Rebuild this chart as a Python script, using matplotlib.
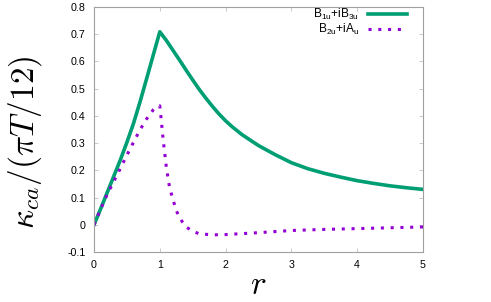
import numpy as np
import matplotlib
matplotlib.use("Agg")
import matplotlib.pyplot as plt

# B1u+iB3u (green, solid)
r_b1u = [0.0, 0.1, 0.2, 0.3, 0.4, 0.5, 0.6, 0.7, 0.8, 0.9, 1.0, 1.05, 1.1, 1.2, 1.3, 1.4, 1.5, 1.6, 1.7,
         1.8, 1.9, 2.0, 2.1, 2.25, 2.5, 2.75, 3.0, 3.25, 3.5, 3.75, 4.0, 4.25, 4.5, 4.75, 5.0]
k_b1u = [0.0, 0.058, 0.118, 0.178, 0.238, 0.303, 0.372, 0.452, 0.537, 0.623, 0.709, 0.693, 0.677, 0.641, 0.605,
         0.568, 0.532, 0.497, 0.465, 0.435, 0.407, 0.382, 0.36, 0.331, 0.291, 0.258, 0.228, 0.206, 0.189, 0.175,
         0.162, 0.152, 0.143, 0.136, 0.130]

# B2u+iAu (purple, dotted)
r_b2u = [0.0, 0.1, 0.2, 0.3, 0.4, 0.5, 0.6, 0.7, 0.8, 0.9, 0.95, 1.0, 1.02, 1.05, 1.1, 1.15,
         1.2, 1.25, 1.3, 1.4, 1.5, 1.6, 1.8, 2.0, 2.5, 3.0, 3.5, 4.0, 4.5, 5.0]
k_b2u = [0.0, 0.057, 0.111, 0.159, 0.207, 0.256, 0.303, 0.349, 0.389, 0.422, 0.432, 0.437, 0.39, 0.315, 0.21, 0.135,
         0.093, 0.053, 0.025, -0.008, -0.024, -0.033, -0.037, -0.036, -0.029, -0.021, -0.017, -0.014, -0.011, -0.008]

labels = [r"B$_{\mathrm{1u}}$+iB$_{\mathrm{3u}}$", r"B$_{\mathrm{2u}}$+iA$_{\mathrm{u}}$"]

plt.rcParams["font.family"] = ["Liberation Sans", "DejaVu Sans"]
plt.rcParams["mathtext.fontset"] = "custom"
plt.rcParams["mathtext.rm"] = "Liberation Sans"
plt.rcParams["mathtext.it"] = "Liberation Sans:italic"

fig = plt.figure(figsize=(4.91, 3.02), dpi=100)
ax = fig.add_axes([94/491, 50/302, 329/491, 245/302])

ax.plot(r_b1u, k_b1u, color="#009e73", lw=2.6, label=labels[0])
ax.plot(r_b2u, k_b2u, color="#9400d3", lw=2.2, ls=(0, (1, 2.2)), dash_capstyle="butt", label=labels[1])

ax.set_xlim(0, 5)
ax.set_ylim(-0.1, 0.8)
ax.set_xticks(np.arange(0, 6, 1))
ax.set_yticks(np.arange(-0.1, 0.81, 0.1))
ax.set_yticklabels(["-0.1", "0", "0.1", "0.2", "0.3", "0.4", "0.5", "0.6", "0.7", "0.8"])
ax.tick_params(direction="in", length=3, width=0.6, color="#c0c0c0", labelsize=7.7,
               top=True, right=True, pad=6)
for s in ax.spines.values():
    s.set_color("#a0a0a0")
    s.set_linewidth(0.8)

leg = ax.legend(loc="upper right", bbox_to_anchor=(407/491, 1 - 7/302), bbox_transform=fig.transFigure,
                frameon=False, markerfirst=False, fontsize=8.6, handlelength=3.3, handletextpad=0.7,
                labelspacing=0.0, borderpad=0, borderaxespad=0)

fig.text(25/491, 1 - 142/302, r"$\kappa_{ca}/(\pi T/12)$", rotation=90, ha="center", va="center",
         fontsize=24, math_fontfamily="cm")
fig.text(258/491, 1/302, r"$r$", ha="center", va="bottom", fontsize=24, math_fontfamily="cm")

fig.savefig("out.png", dpi=100)
